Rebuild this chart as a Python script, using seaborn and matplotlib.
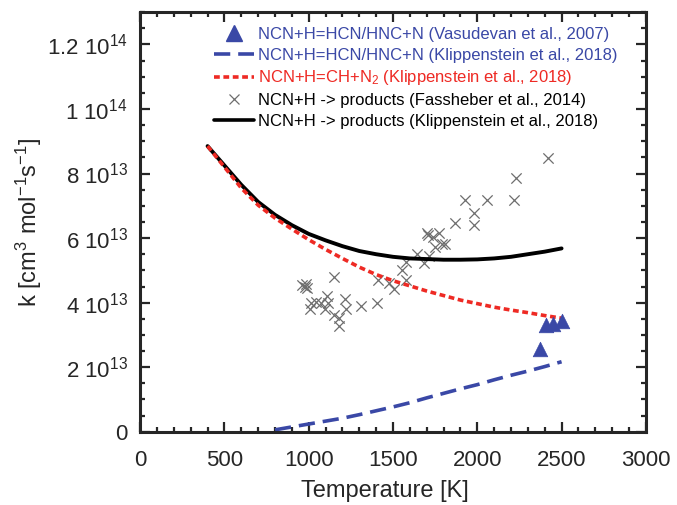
import numpy as np
import pandas as pd
import matplotlib
matplotlib.use("Agg")
import matplotlib.pyplot as plt
import seaborn as sns
from matplotlib.lines import Line2D
from matplotlib.ticker import MultipleLocator

# ---------------------------
# DATA (k in units of 1e13 cm3 mol-1 s-1)
# ---------------------------
T_curve = [400, 500, 600, 700, 800, 900, 1000, 1100, 1200, 1300, 1400,
           1500, 1600, 1700, 1800, 1900, 2000, 2100, 2200, 2300, 2400, 2500]
k_total_klipp = [8.85, 8.25, 7.65, 7.12, 6.72, 6.40, 6.13, 5.93, 5.75, 5.60, 5.50,
                 5.42, 5.37, 5.35, 5.33, 5.33, 5.34, 5.37, 5.42, 5.50, 5.58, 5.68]
k_ch_klipp = [8.85, 8.20, 7.55, 7.02, 6.62, 6.28, 5.95, 5.65, 5.37, 5.10, 4.87,
              4.68, 4.52, 4.36, 4.22, 4.08, 3.97, 3.86, 3.77, 3.69, 3.60, 3.52]

T_hcn = [800, 900, 1000, 1100, 1200, 1300, 1400, 1500, 1600,
         1700, 1800, 1900, 2000, 2100, 2200, 2300, 2400, 2500]
k_hcn_klipp = [0.06, 0.15, 0.24, 0.33, 0.42, 0.53, 0.65, 0.77, 0.90,
               1.05, 1.19, 1.33, 1.46, 1.61, 1.75, 1.88, 2.02, 2.17]

T_vasu = [2370, 2410, 2450, 2500]
k_vasu = [2.55, 3.30, 3.35, 3.42]

T_fass = [962, 978, 990, 985, 1150, 1109, 1015, 1044, 1074, 1009, 1097, 1115,
          1150, 1180, 1180, 1215, 1221, 1310, 1404, 1410, 1475, 1504, 1552, 1575,
          1575, 1640, 1681, 1711, 1699, 1710, 1740, 1770, 1752, 1788, 1811, 1870,
          1929, 1982, 1982, 2059, 2218, 2230, 2419]
k_fass = [4.54, 4.50, 4.44, 4.58, 4.81, 4.20, 3.98, 4.01, 3.98, 3.80, 3.80, 3.98,
          3.61, 3.52, 3.27, 4.10, 3.80, 3.89, 3.98, 4.69, 4.60, 4.41, 5.00, 4.69,
          5.25, 5.52, 5.22, 5.46, 6.17, 6.10, 6.02, 6.17, 5.71, 5.83, 5.83, 6.48,
          7.19, 6.79, 6.39, 7.19, 7.19, 7.87, 8.49]

ytick_vals = [0, 2, 4, 6, 8, 10, 12]
ytick_labels = ["0", r"2 10$^{13}$", r"4 10$^{13}$", r"6 10$^{13}$",
                r"8 10$^{13}$", r"1 10$^{14}$", r"1.2 10$^{14}$"]

labels = [
    "NCN+H=HCN/HNC+N (Vasudevan et al., 2007)",
    "NCN+H=HCN/HNC+N (Klippenstein et al., 2018)",
    r"NCN+H=CH+N$_2$ (Klippenstein et al., 2018)",
    "NCN+H -> products (Fassheber et al., 2014)",
    "NCN+H -> products (Klippenstein et al., 2018)",
]

BLUE = "#3a48a6"
RED = "#ee2a24"
GRAY = "#6e6e6e"

# ---------------------------
# STYLE
# ---------------------------
sns.set_style("ticks")
plt.rcParams["font.family"] = ["Liberation Sans", "DejaVu Sans"]
plt.rcParams["mathtext.fontset"] = "custom"
plt.rcParams["mathtext.rm"] = "Liberation Sans"
plt.rcParams["mathtext.it"] = "Liberation Sans:italic"
plt.rcParams["mathtext.default"] = "regular"

fig = plt.figure(figsize=(6.77, 5.05), dpi=100)
ax = fig.add_axes([0.207, 0.145, 0.747, 0.831])

df_tot = pd.DataFrame({"T": T_curve, "k": np.array(k_total_klipp) * 1e13})
df_ch = pd.DataFrame({"T": T_curve, "k": np.array(k_ch_klipp) * 1e13})
df_hcn = pd.DataFrame({"T": T_hcn, "k": np.array(k_hcn_klipp) * 1e13})
df_vasu = pd.DataFrame({"T": T_vasu, "k": np.array(k_vasu) * 1e13})
df_fass = pd.DataFrame({"T": T_fass, "k": np.array(k_fass) * 1e13})

sns.lineplot(data=df_tot, x="T", y="k", color="black", lw=2.8, ax=ax)
sns.lineplot(data=df_ch, x="T", y="k", color=RED, lw=2.6, ax=ax)
ax.lines[-1].set_dashes((1.6, 1.0))
sns.lineplot(data=df_hcn, x="T", y="k", color=BLUE, lw=2.6, ax=ax)
ax.lines[-1].set_dashes((4.5, 2.2))
sns.scatterplot(data=df_fass, x="T", y="k", marker="x", color=GRAY, s=55,
                linewidth=0.9, ax=ax, zorder=1)
sns.scatterplot(data=df_vasu, x="T", y="k", marker="^", color=BLUE, s=110,
                edgecolor=BLUE, linewidth=0.5, ax=ax, zorder=5)

ax.set_xlim(0, 3000)
ax.set_ylim(0, 1.3e14)
ax.set_xticks([0, 500, 1000, 1500, 2000, 2500, 3000])
ax.set_yticks([v * 1e13 for v in ytick_vals], ytick_labels)
ax.xaxis.set_minor_locator(MultipleLocator(100))
ax.yaxis.set_minor_locator(MultipleLocator(0.5e13))
ax.tick_params(which="both", direction="in", top=True, right=True,
               width=1.6, labelsize=16)
ax.tick_params(axis="x", which="major", pad=13)
ax.tick_params(axis="y", which="major", pad=9)
ax.tick_params(which="major", length=7)
ax.tick_params(which="minor", length=3.5)
for sp in ax.spines.values():
    sp.set_linewidth(2.2)

ax.set_xlabel("Temperature [K]", fontsize=17)
ax.set_ylabel(r"k [cm$^{3}$ mol$^{\mathregular{-1}}$s$^{\mathregular{-1}}$]", fontsize=17)
ax.xaxis.set_label_coords(0.484, -0.115)
ax.yaxis.set_label_coords(-0.19, 0.5)

handles = [
    Line2D([], [], ls="none", marker="^", color=BLUE, markersize=11),
    Line2D([], [], color=BLUE, lw=2.6, dashes=(4.5, 2.2)),
    Line2D([], [], color=RED, lw=2.6, dashes=(1.6, 1.0)),
    Line2D([], [], ls="none", marker="x", color=GRAY, markersize=7, mew=0.9),
    Line2D([], [], color="black", lw=2.6),
]
leg = ax.legend(handles, labels, loc="upper left", bbox_to_anchor=(0.13, 0.985),
                frameon=False, fontsize=12, handlelength=2.4,
                handletextpad=0.2, labelspacing=0.35, borderpad=0)
text_colors = [BLUE, BLUE, RED, "black", "black"]
for t, c in zip(leg.get_texts(), text_colors):
    t.set_color(c)

fig.savefig("out.png", dpi=100)
